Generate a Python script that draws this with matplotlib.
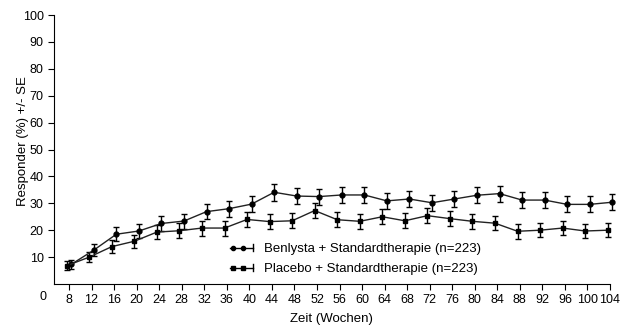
import numpy as np
import matplotlib
matplotlib.use("Agg")
import matplotlib.pyplot as plt
from matplotlib.lines import Line2D
from matplotlib.legend_handler import HandlerBase

plt.rcParams['font.family'] = ['Liberation Sans Narrow', 'Liberation Sans', 'DejaVu Sans']

# Weeks and responder rates (%) with standard errors
weeks = [8, 12, 16, 20, 24, 28, 32, 36, 40, 44, 48, 52, 56,
         60, 64, 68, 72, 76, 80, 84, 88, 92, 96, 100, 104]
benlysta = [7.3, 12.6, 18.5, 19.7, 22.5, 23.4, 26.9, 28.0, 29.7, 34.1, 32.7, 32.5, 33.1,
            33.1, 30.9, 31.6, 30.2, 31.6, 33.0, 33.6, 31.2, 31.2, 29.6, 29.6, 30.4]
benlysta_se = [1.6, 2.2, 2.6, 2.7, 2.8, 2.8, 2.9, 3.0, 3.0, 3.1, 3.0, 3.0, 3.0,
               3.0, 3.0, 3.0, 3.0, 3.0, 3.0, 3.0, 3.0, 3.0, 3.0, 3.0, 3.0]
placebo = [6.8, 10.0, 13.9, 15.9, 19.3, 19.8, 20.8, 20.8, 24.0, 23.2, 23.5, 27.3, 23.9,
           23.3, 25.0, 23.5, 25.4, 24.3, 23.3, 22.6, 19.6, 20.0, 20.8, 19.7, 20.0]
placebo_se = [1.6, 2.0, 2.3, 2.4, 2.6, 2.7, 2.8, 2.8, 2.8, 2.8, 2.8, 2.9, 2.8,
              2.8, 2.8, 2.8, 2.9, 2.8, 2.8, 2.7, 2.7, 2.7, 2.7, 2.6, 2.6]

label_b = 'Benlysta + Standardtherapie (n=223)'
label_p = 'Placebo + Standardtherapie (n=223)'


# legend handle: line with two markers and a small end tick
class LineHandler(HandlerBase):
    def __init__(self, marker):
        super().__init__()
        self.marker = marker

    def create_artists(self, legend, orig, xd, yd, width, height, fontsize, trans):
        y = yd + height / 2
        ln = Line2D([xd, xd + width], [y, y], color='black', lw=1)
        mk = Line2D([xd + 0.12 * width, xd + 0.55 * width], [y, y], ls='none',
                    marker=self.marker, ms=3, color='black')
        tk = Line2D([xd + width, xd + width], [y - 2.5, y + 2.5], color='black', lw=1)
        for a in (ln, mk, tk):
            a.set_transform(trans)
        return [ln, mk, tk]


fig = plt.figure(figsize=(6.31, 3.35), dpi=100)
ax = fig.add_axes([54/631, 1-284/335, (610-54)/631, (284-15)/335])

w = np.array(weeks)
hb = ax.errorbar(w + 0.4, benlysta, yerr=benlysta_se, color='#222222', lw=1,
                 marker='o', ms=3.5, mfc='black', mec='black', ecolor='black',
                 elinewidth=1, capsize=2.5, capthick=1)
hp = ax.errorbar(w - 0.4, placebo, yerr=placebo_se, color='#222222', lw=1,
                 marker='s', ms=3.5, mfc='black', mec='black', ecolor='black',
                 elinewidth=1, capsize=2.5, capthick=1)
# last point sits just past the axis end, keep it visible
for cont in (hb, hp):
    for art in cont.get_children():
        art.set_clip_on(False)

ax.set_xlim(8 - 15/5.635, 104)
ax.set_ylim(0, 100)
ax.set_xticks(list(range(8, 105, 4)))
ax.set_yticks(range(10, 101, 10))
ax.spines['top'].set_visible(False)
ax.spines['right'].set_visible(False)
ax.tick_params(labelsize=9, length=4, width=0.8, colors='black')
ax.text(43/631, 1-297/335, '0', transform=fig.transFigure, fontsize=9,
        ha='center', va='center')

ax.set_xlabel('Zeit (Wochen)', fontsize=9.5)
ax.set_ylabel('Responder (%) +/- SE', fontsize=9.5)
ax.xaxis.set_label_coords((331-54)/556, -(313-284)/269)
ax.yaxis.set_label_coords((29-54)/556, (284-141)/269)

h1 = Line2D([], [])
h2 = Line2D([], [])
ax.legend([h1, h2], [label_b, label_p], loc='upper left',
          bbox_to_anchor=((230-54)/556, (284-243)/269), frameon=False,
          fontsize=9.5, handlelength=1.75, handletextpad=0.85, labelspacing=0.6,
          borderaxespad=0, borderpad=0,
          handler_map={h1: LineHandler('o'), h2: LineHandler('s')})

fig.savefig('out.png', dpi=100)
